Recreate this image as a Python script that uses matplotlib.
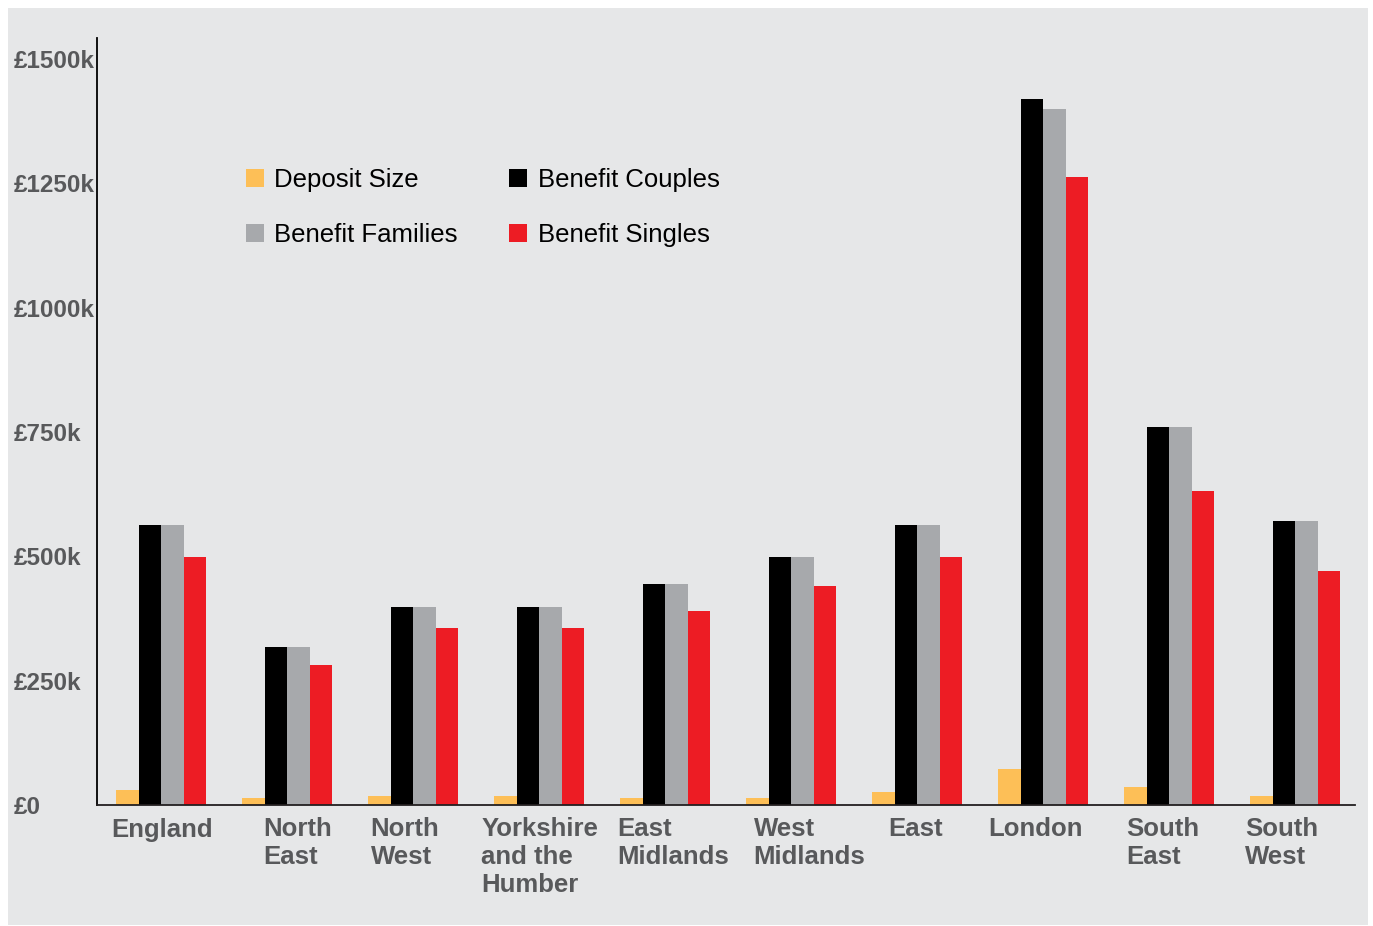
import numpy as np
import matplotlib.pyplot as plt
from matplotlib.patches import Rectangle

regions = ["England", "North\nEast", "North\nWest", "Yorkshire\nand the\nHumber",
           "East\nMidlands", "West\nMidlands", "East", "London", "South\nEast", "South\nWest"]

deposit_size = [30, 14, 18, 18, 14, 14, 26, 72, 36, 18]
benefit_couples = [563, 318, 398, 398, 444, 499, 563, 1420, 760, 571]
benefit_families = [563, 318, 398, 398, 444, 499, 563, 1400, 760, 571]
benefit_singles = [499, 282, 356, 356, 390, 440, 499, 1263, 631, 470]

y_ticks = [0, 250, 500, 750, 1000, 1250, 1500]
y_tick_labels = ["£0", "£250k", "£500k", "£750k", "£1000k", "£1250k", "£1500k"]

# layout only: horizontal nudge of each category label from its group's left edge
label_shift = [-0.04, 0.17, 0.02, -0.10, -0.02, 0.06, 0.13, -0.08, 0.02, -0.04]

BG = "#e6e7e8"
TEXT_GREY = "#58595b"
series = [
    ("Deposit Size", deposit_size, "#fdbf57"),
    ("Benefit Couples", benefit_couples, "#000000"),
    ("Benefit Families", benefit_families, "#a7a9ac"),
    ("Benefit Singles", benefit_singles, "#ed1c24"),
]

plt.rcParams["font.family"] = ["Liberation Sans", "DejaVu Sans"]

fig = plt.figure(figsize=(13.73, 9.26), dpi=100, facecolor="white")
fig.patches.append(Rectangle((8 / 1373, 1 / 926), 1360 / 1373, 917 / 926,
                             transform=fig.transFigure, facecolor=BG,
                             edgecolor="none", zorder=-10))
ax = fig.add_axes([97 / 1373, 121 / 926, 1258 / 1373, 767 / 926])
ax.set_facecolor(BG)

x = np.arange(len(regions))
w = 0.1786
bars = {}
for k, (name, vals, col) in enumerate(series):
    bars[name] = ax.bar(x + w * (k + 0.5), vals, width=w, color=col,
                        linewidth=0, label=name)

ax.set_xlim(-0.151, 9.833)
ax.set_ylim(0, 1542)
ax.set_yticks(y_ticks)
ax.set_yticklabels(y_tick_labels, fontsize=17.5, fontweight="bold", color=TEXT_GREY)
for t in ax.get_yticklabels():
    t.set_horizontalalignment("left")
ax.tick_params(axis="y", length=0, pad=60)
ax.set_xticks([])

for s in ["top", "right"]:
    ax.spines[s].set_visible(False)
ax.spines["left"].set_linewidth(1.3)
ax.spines["bottom"].set_linewidth(1.3)
ax.spines["bottom"].set_color("#231f20")

for i, lab in enumerate(regions):
    ax.annotate(lab, xy=(i + label_shift[i], 0), xycoords=("data", "axes fraction"),
                xytext=(0, -9), textcoords="offset points", ha="left", va="top",
                fontsize=18.5, fontweight="bold", color=TEXT_GREY, linespacing=1.2)

handles = [bars["Deposit Size"], bars["Benefit Families"],
           bars["Benefit Couples"], bars["Benefit Singles"]]
ax.legend(handles, [h.get_label() for h in handles], ncol=2, frameon=False,
          loc="upper left", bbox_to_anchor=(0.110, 0.844), borderaxespad=0,
          fontsize=18.5, handlelength=0.72, handleheight=0.72, handletextpad=0.4,
          labelspacing=1.2, columnspacing=1.98)

fig.savefig("out.png", dpi=100, facecolor="white")
